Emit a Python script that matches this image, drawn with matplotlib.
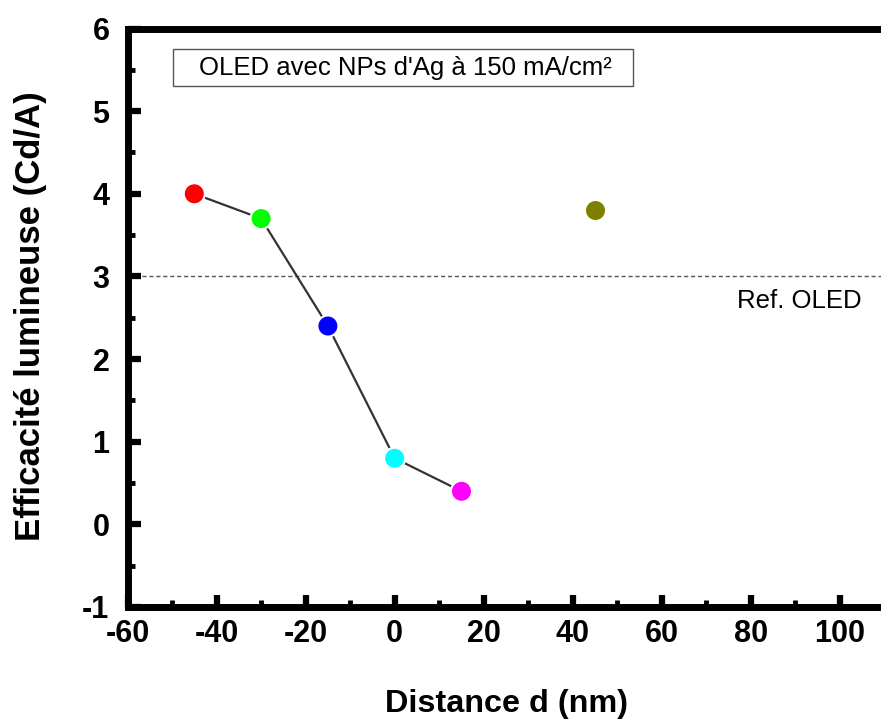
import matplotlib
matplotlib.use("Agg")
import matplotlib.pyplot as plt
from matplotlib.patches import Rectangle
from matplotlib.ticker import MultipleLocator, FuncFormatter

plt.rcParams['font.family'] = ['Liberation Sans', 'DejaVu Sans']

# data
distance = [-45, -30, -15, 0, 15]
efficacite = [4.0, 3.7, 2.4, 0.8, 0.4]
point_colors = ['#ff0000', '#00ff00', '#0000ff', '#00ffff', '#ff00ff']
extra_distance = [45]
extra_efficacite = [3.8]
extra_colors = ['#808000']
ref_oled = 3.0

W, H = 881, 722
fig = plt.figure(figsize=(W / 100, H / 100), dpi=100)
ax = fig.add_axes([127.5 / W, 1 - 607 / H, 1 - 127.5 / W, (607 - 28.5) / H])

ax.plot(distance, efficacite, color='#333333', lw=1.6, zorder=2)
ax.scatter(distance, efficacite, s=230, c=point_colors, edgecolors='white',
           linewidths=1.5, zorder=3)
ax.scatter(extra_distance, extra_efficacite, s=230, c=extra_colors,
           edgecolors='white', linewidths=1.5, zorder=3)

ax.axhline(ref_oled, color='#555555', lw=1, ls=(0, (3, 2)), zorder=1)
ax.text(104.8, 2.70, 'Ref. OLED', fontsize=18.5, ha='right', va='center')

# annotation box (text left-padded like the original)
fig.patches.append(Rectangle((173 / W, 1 - 86 / H), (633 - 173) / W, 37 / H,
                             transform=fig.transFigure, fc='white',
                             ec='#555555', lw=1, zorder=4))
fig.text(199 / W, 1 - 67.5 / H, "OLED avec NPs d'Ag à 150 mA/cm²",
         fontsize=18.5, ha='left', va='center', zorder=5)

ax.set_xlim(-60, 109.2)
ax.set_ylim(-1, 6)
ax.xaxis.set_major_locator(MultipleLocator(20))
ax.xaxis.set_minor_locator(MultipleLocator(10))
ax.yaxis.set_major_locator(MultipleLocator(1))
ax.yaxis.set_minor_locator(MultipleLocator(0.5))
fmt = FuncFormatter(lambda v, pos: '%d' % round(v))
ax.xaxis.set_major_formatter(fmt)
ax.yaxis.set_major_formatter(fmt)

for side in ['left', 'bottom', 'top']:
    ax.spines[side].set_linewidth(5)
ax.spines['right'].set_visible(False)

ax.tick_params(which='major', direction='in', length=9, width=4.5,
               labelsize=22)
ax.tick_params(which='minor', direction='in', length=5, width=3.5)
ax.tick_params(axis='x', which='major', pad=9)
ax.tick_params(axis='y', which='major', pad=13)
for lab in ax.get_xticklabels() + ax.get_yticklabels():
    lab.set_fontweight('bold')

fig.text(506 / W, 1 - 704 / H, 'Distance d (nm)', fontsize=23.3,
         fontweight='bold', ha='center', va='center')
fig.text(31 / W, 1 - 316.5 / H, 'Efficacité lumineuse (Cd/A)', fontsize=25,
         fontweight='bold', ha='center', va='center', rotation=90)

fig.savefig('out.png', dpi=100)
